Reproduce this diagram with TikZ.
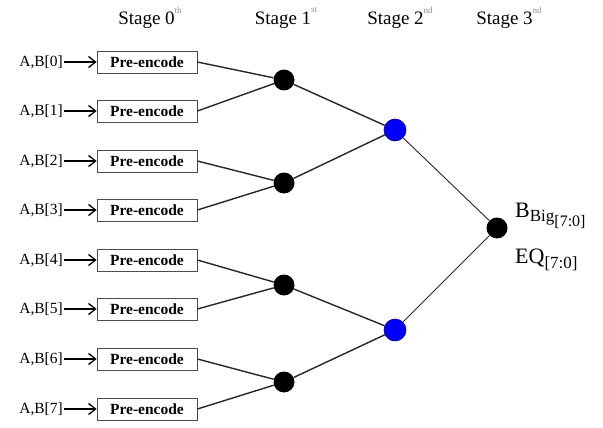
\documentclass[tikz,border=0pt]{standalone}
\usepackage{fontspec}
\setmainfont{Liberation Serif}
\usetikzlibrary{arrows.meta}
\tikzset{
  encbox/.style={draw=black!70, line width=0.8pt, minimum width=100pt, minimum height=22pt,
    inner sep=0pt, font=\fontsize{15.5}{15.5}\selectfont\bfseries},
  inlabel/.style={anchor=east, inner sep=1pt, font=\fontsize{15.5}{15.5}\selectfont},
  inarrow/.style={line width=1.6pt, -{Straight Barb[length=7pt,width=11pt,line width=1.3pt]}},
  stagelabel/.style={font=\fontsize{19}{19}\selectfont},
  sup/.style={},
  dotblack/.style={circle, fill=black, inner sep=0pt, minimum size=21pt},
  dotblue/.style={circle, fill=blue, draw=blue!60!black, line width=0.6pt, inner sep=0pt, minimum size=22pt},
  link/.style={line width=1.4pt, black!85},
  thinlink/.style={line width=0.9pt, black!85},
  outlabel/.style={anchor=west, inner sep=0pt, font=\fontsize{22}{22}\selectfont}
}
\newcommand{\ordsup}[1]{\raisebox{0.6em}{\fontsize{9}{9}\selectfont\color{black!45}#1}}
\begin{document}
\begin{tikzpicture}[x=1pt,y=-1pt]
  \useasboundingbox (0,0) rectangle (603,428);

  % stage headings
  \node[stagelabel] (h0) at (150,18) {Stage 0\ordsup{th}};
  \node[stagelabel] (h1) at (286,18) {Stage 1\ordsup{st}};
  \node[stagelabel] (h2) at (400,18) {Stage 2\ordsup{nd}};
  \node[stagelabel] (h3) at (509,18) {Stage 3\ordsup{nd}};

  % stage 0: pre-encoders with their inputs
  \foreach \i/\y in {0/62,1/111,2/161,3/210,4/260,5/309,6/359,7/409} {
    \node[encbox] (p\i) at (147,\y) {Pre-encode};
    \node[inlabel] (in\i) at (64,\y) {A,B[\i]};
    \draw[inarrow] (in\i.east) -- (p\i.west);
  }

  % stage 1
  \node[dotblack] (a0) at (284,80) {};
  \node[dotblack] (a1) at (284,183) {};
  \node[dotblack] (a2) at (284,285) {};
  \node[dotblack] (a3) at (284,382) {};

  % stage 2
  \node[dotblue] (b0) at (395,130) {};
  \node[dotblue] (b1) at (395,330) {};

  % stage 3
  \node[dotblack] (c0) at (497,228) {};

  % connections
  \draw[link] (p0.east) -- (a0);
  \draw[link] (p1.east) -- (a0);
  \draw[link] (p2.east) -- (a1);
  \draw[link] (p3.east) -- (a1);
  \draw[link] (p4.east) -- (a2);
  \draw[link] (p5.east) -- (a2);
  \draw[link] (p6.east) -- (a3);
  \draw[link] (p7.east) -- (a3);
  \draw[link] (a0) -- (b0);
  \draw[link] (a1) -- (b0);
  \draw[link] (a2) -- (b1);
  \draw[link] (a3) -- (b1);
  \draw[thinlink] (b0) -- (c0);
  \draw[thinlink] (b1) -- (c0);

  % outputs
  \node[outlabel] (o1) at (515,216) {B\textsubscript{\fontsize{17}{17}\selectfont Big\textsubscript{\fontsize{16}{16}\selectfont[7:0]}}};
  \node[outlabel] (o2) at (515,260) {EQ\textsubscript{\fontsize{17}{17}\selectfont[7:0]}};
\end{tikzpicture}
\end{document}
